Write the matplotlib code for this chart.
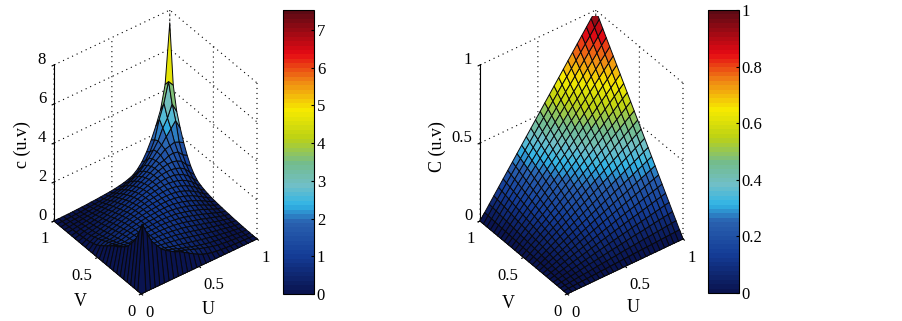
import numpy as np
import matplotlib
matplotlib.use('Agg')
import matplotlib.pyplot as plt
from matplotlib.colors import LinearSegmentedColormap, Normalize
from matplotlib.cm import ScalarMappable
from mpl_toolkits.mplot3d import proj3d

# grid nodes shared by both surfaces
grid_uv = [0.00, 0.04, 0.08, 0.12, 0.16, 0.20, 0.24, 0.28, 0.32, 0.36, 0.40, 0.44, 0.48,
           0.52, 0.56, 0.60, 0.64, 0.68, 0.72, 0.76, 0.80, 0.84, 0.88, 0.92, 0.96, 1.00]

# density c(u,v), symmetric, rows are v nodes, only u <= v is listed
density_rows = [
    [0],
    [0, 3.30],
    [0, 2.70, 2.00],
    [0, 2.20, 1.70, 1.50],
    [0, 1.90, 1.45, 1.30, 1.15],
    [0, 1.60, 1.30, 1.15, 1.05, .98],
    [0, 1.40, 1.15, 1.05, .97, .93, .90],
    [0, 1.25, 1.05, .97, .92, .90, .88, .88],
    [0, 1.10, .95, .90, .86, .86, .87, .89, .89],
    [0, 1.00, .88, .83, .79, .82, .86, .88, .90, .91],
    [0, .85, .80, .74, .72, .78, .83, .87, .90, .92, .93],
    [0, .70, .70, .65, .67, .74, .80, .85, .89, .93, .95, .96],
    [0, .55, .62, .58, .61, .69, .76, .82, .87, .92, .96, .98, 1.00],
    [0, .42, .52, .50, .55, .64, .71, .78, .85, .90, .95, .99, 1.02, 1.04],
    [0, .30, .44, .43, .50, .58, .66, .74, .81, .87, .93, .99, 1.03, 1.07, 1.09],
    [0, .22, .36, .37, .44, .52, .60, .68, .76, .83, .90, .97, 1.03, 1.08, 1.12, 1.15],
    [0, .16, .29, .31, .38, .46, .54, .62, .70, .78, .85, .93, 1.00, 1.07, 1.13, 1.18, 1.22],
    [0, .12, .22, .26, .33, .40, .47, .55, .63, .71, .79, .87, .96, 1.04, 1.12, 1.19, 1.25, 1.30],
    [0, .09, .17, .22, .28, .34, .41, .48, .56, .64, .72, .81, .90, .99, 1.08, 1.17, 1.25, 1.33, 1.39],
    [0, .07, .14, .18, .23, .29, .35, .42, .49, .56, .64, .73, .82, .92, 1.02, 1.12, 1.22, 1.32, 1.42, 1.50],
    [0, .05, .11, .15, .19, .24, .29, .35, .41, .48, .56, .64, .73, .83, .93, 1.04, 1.16, 1.29, 1.42, 1.55, 1.60],
    [0, .04, .08, .11, .15, .19, .23, .28, .34, .40, .47, .54, .62, .72, .82, .94, 1.07, 1.21, 1.37, 1.55, 1.72, 1.90],
    [0, .03, .06, .08, .11, .14, .17, .21, .26, .31, .36, .43, .50, .58, .68, .80, .93, 1.09, 1.28, 1.50, 1.75, 1.98, 2.30],
    [0, .02, .04, .05, .07, .09, .12, .15, .18, .22, .26, .31, .37, .44, .53, .63, .76, .92, 1.12, 1.38, 1.70, 2.05, 2.60, 3.00],
    [0, .01, .02, .03, .04, .05, .07, .09, .11, .13, .16, .19, .23, .28, .34, .42, .52, .66, .85, 1.10, 1.45, 1.95, 2.90, 3.60, 4.60],
    [0, .00, .01, .01, .02, .03, .04, .05, .07, .08, .10, .12, .14, .17, .21, .26, .33, .43, .62, .90, 1.30, 1.80, 2.40, 3.10, 4.30, 7.35],
]

# copula C(u,v), same layout
copula_rows = [
    [0],
    [0, .002],
    [0, .003, .006],
    [0, .005, .010, .014],
    [0, .006, .013, .019, .026],
    [0, .008, .016, .024, .032, .040],
    [0, .010, .019, .029, .038, .048, .058],
    [0, .011, .022, .034, .045, .056, .067, .078],
    [0, .013, .026, .038, .051, .064, .077, .090, .102],
    [0, .014, .029, .043, .058, .072, .086, .101, .115, .130],
    [0, .016, .032, .048, .064, .080, .096, .112, .128, .144, .160],
    [0, .018, .035, .053, .070, .088, .106, .123, .141, .158, .176, .194],
    [0, .019, .038, .058, .077, .096, .115, .134, .154, .173, .192, .211, .230],
    [0, .021, .042, .062, .083, .104, .125, .146, .166, .187, .208, .229, .250, .270],
    [0, .022, .045, .067, .090, .112, .134, .157, .179, .202, .224, .246, .269, .291, .314],
    [0, .024, .048, .072, .096, .120, .144, .168, .192, .216, .240, .264, .288, .312, .336, .360],
    [0, .026, .051, .077, .102, .128, .154, .179, .205, .230, .256, .282, .307, .333, .358, .384, .410],
    [0, .027, .054, .082, .109, .136, .163, .190, .218, .245, .272, .299, .326, .354, .381, .408, .435, .462],
    [0, .029, .058, .086, .115, .144, .173, .202, .230, .259, .288, .317, .346, .374, .403, .432, .461, .490, .518],
    [0, .030, .061, .091, .122, .152, .182, .213, .243, .274, .304, .334, .365, .395, .426, .456, .486, .517, .547, .578],
    [0, .032, .064, .096, .128, .160, .192, .224, .256, .288, .320, .352, .384, .416, .448, .480, .512, .544, .576, .608, .640],
    [0, .034, .067, .101, .134, .168, .202, .235, .269, .302, .336, .370, .403, .437, .470, .504, .538, .571, .605, .638, .672, .706],
    [0, .035, .070, .106, .141, .176, .211, .246, .282, .317, .352, .387, .422, .458, .493, .528, .563, .598, .634, .669, .704, .739, .774],
    [0, .037, .074, .110, .147, .184, .221, .258, .294, .331, .368, .405, .442, .478, .515, .552, .589, .626, .662, .699, .736, .773, .810, .846],
    [0, .038, .077, .115, .154, .192, .230, .269, .307, .346, .384, .422, .461, .499, .538, .576, .614, .653, .691, .730, .768, .806, .845, .883, .922],
    [0, .04, .08, .12, .16, .20, .24, .28, .32, .36, .40, .44, .48, .52, .56, .60, .64, .68, .72, .76, .80, .84, .88, .92, .96, 1.00],
]

uv_ticks = [0, 0.5, 1]
uv_labels = ['0', '0.5', '1']
left_zticks = [0, 2, 4, 6, 8]
left_bar_ticks = [0, 1, 2, 3, 4, 5, 6, 7]
right_zticks = [0, 0.5, 1]
right_zlabels = ['0', '0.5', '1']
right_bar_ticks = [0, 0.2, 0.4, 0.6, 0.8, 1]
right_bar_labels = ['0', '0.2', '0.4', '0.6', '0.8', '1']

cmap_stops = [0.0, 0.13, 0.25, 0.31, 0.38, 0.46, 0.55, 0.65, 0.75, 0.85, 1.0]
cmap_colors = ['#0a1450', '#143c96', '#2a62b0', '#30b4e6', '#70bfc8', '#74bc8c',
               '#bcd214', '#f6ea00', '#f08a14', '#e60a14', '#5c0a14']
jet_like = LinearSegmentedColormap.from_list('jetish', list(zip(cmap_stops, cmap_colors)), N=64)

plt.rcParams['font.family'] = ['Liberation Serif', 'DejaVu Serif']
plt.rcParams['font.size'] = 12
plt.rcParams['grid.linestyle'] = (0, (1, 3.5))
plt.rcParams['grid.color'] = 'black'
plt.rcParams['grid.linewidth'] = 0.8

W, H = 903, 321
fig = plt.figure(figsize=(W / 100, H / 100), dpi=100)


def full_table(rows):
    n = len(rows)
    table = np.zeros((n, n))
    for j, row in enumerate(rows):
        table[j, :j + 1] = row
        table[:j + 1, j] = row
    return table


def fit_axes(ax, left_px, right_px):
    # scale and move the 3d axes until the two floor corners land on the wanted pixels
    size = 300.0
    x0, y0 = 100.0, 50.0
    for k in range(3):
        ax.set_position([x0 / W, y0 / H, size / W, size / H])
        fig.canvas.draw()
        xs, ys, _ = proj3d.proj_transform(np.array([0., 1.]), np.array([1., 0.]), np.array([0., 0.]), ax.get_proj())
        pts = ax.transData.transform(np.column_stack([xs, ys]))
        if k == 0:
            size = size * (right_px[0] - left_px[0]) / (pts[1, 0] - pts[0, 0])
        else:
            x0 += left_px[0] - pts[0, 0]
            y0 += (H - left_px[1]) - pts[0, 1]


def surface_panel(table, zmax, zticks, zlabels, zname, vmax, bar_ticks, bar_labels, left_px, right_px, bar_box, label_px):
    ax = fig.add_subplot(projection='3d', proj_type='ortho', computed_zorder=False)
    ax.patch.set_alpha(0)
    ax.view_init(elev=39, azim=233)
    ax.set_box_aspect((1, 1, 1.385))
    U, V = np.meshgrid(grid_uv, grid_uv)
    norm = Normalize(0, vmax)
    colors = jet_like(norm(table))
    # each face takes the colour of its first corner, as a flat shaded matlab surf does
    ax.plot_surface(U, V, table, facecolors=colors, rstride=1, cstride=1,
                    edgecolor='#08080c', linewidth=0.7, antialiased=True, shade=False)
    # the two front strips go on top again, depth sort gets the steep walls wrong
    ax.plot_surface(U[:2, :], V[:2, :], table[:2, :], facecolors=colors[:2, :], rstride=1, cstride=1,
                    edgecolor='#08080c', linewidth=0.7, antialiased=True, shade=False)
    ax.plot_surface(U[:, :2], V[:, :2], table[:, :2], facecolors=colors[:, :2], rstride=1, cstride=1,
                    edgecolor='#08080c', linewidth=0.7, antialiased=True, shade=False)
    ax.set_xlim(0, 1)
    ax.set_ylim(0, 1)
    ax.set_zlim(0, zmax)
    ax.set_xticks(uv_ticks)
    ax.set_xticklabels(uv_labels, ha='left')
    ax.set_yticks(uv_ticks)
    ax.set_yticklabels(uv_labels, ha='right')
    ax.set_zticks(zticks)
    ax.set_zticklabels(zlabels, ha='right', va='baseline')
    ax.tick_params(axis='x', pad=-3, labelsize=12)
    ax.tick_params(axis='y', pad=-3, labelsize=12)
    ax.tick_params(axis='z', pad=-4, labelsize=12)
    for axis in [ax.xaxis, ax.yaxis, ax.zaxis]:
        axis.set_pane_color((1, 1, 1, 0))
        axis.pane.set_edgecolor('none')
    ax.xaxis.line.set_color('none')
    ax.yaxis.line.set_color('none')
    ax.zaxis.line.set_color('black')
    fit_axes(ax, left_px, right_px)

    ux, uy, vx, vy, zx, zy = label_px
    fig.text(ux / W, 1 - uy / H, 'U', fontsize=13, ha='center', va='center')
    fig.text(vx / W, 1 - vy / H, 'V', fontsize=13, ha='center', va='center')
    fig.text(zx / W, 1 - zy / H, zname, fontsize=13, rotation=90, ha='center', va='center')

    l, t, r, b = bar_box
    cax = fig.add_axes([l / W, (H - b) / H, (r - l) / W, (b - t) / H])
    cb = fig.colorbar(ScalarMappable(norm, jet_like), cax=cax)
    cb.set_ticks(bar_ticks)
    cb.set_ticklabels(bar_labels)
    cax.tick_params(length=2, direction='in', pad=2, labelsize=12)
    return ax


left_density = full_table(density_rows)
right_copula = full_table(copula_rows)

surface_panel(left_density, 8, left_zticks, [str(t) for t in left_zticks], 'c (u.v)', 7.53,
              left_bar_ticks, [str(t) for t in left_bar_ticks], (54, 221), (257, 239), (283, 10, 314, 294),
              (208, 309, 80, 301, 22, 145))
surface_panel(right_copula, 1, right_zticks, right_zlabels, 'C (u.v)', 1,
              right_bar_ticks, right_bar_labels, (480, 221), (683, 238), (708, 10, 739, 293),
              (633, 308, 508, 303, 437, 147))

fig.savefig('out.png', dpi=100)
